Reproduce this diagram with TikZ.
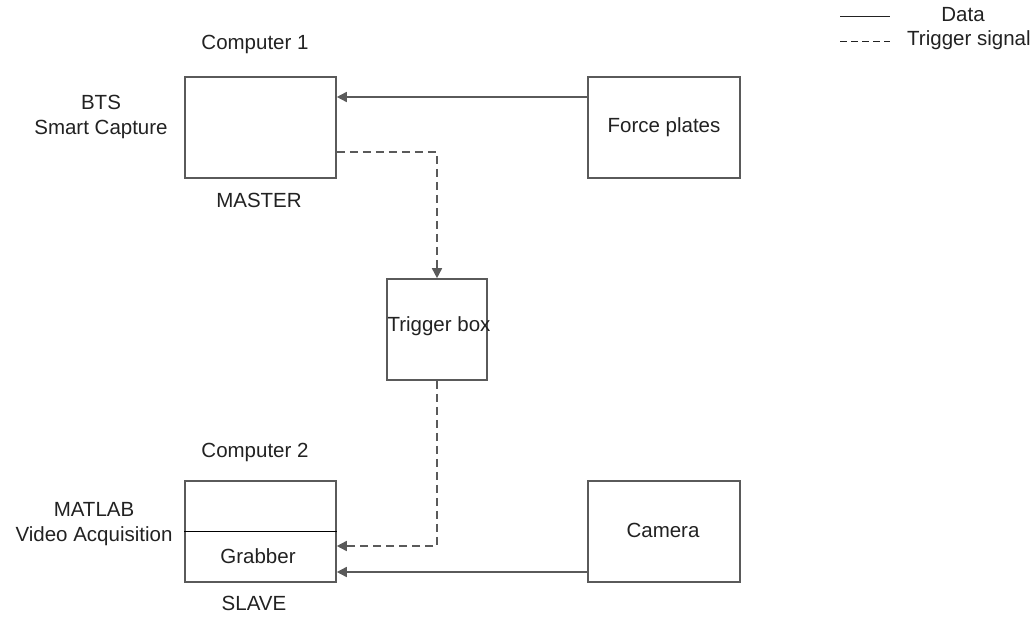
\documentclass[tikz,border=0pt]{standalone}
\usepackage{fontspec}
\setmainfont{Liberation Sans}
\usetikzlibrary{arrows.meta}
\definecolor{edge}{HTML}{5A5A5A}
\definecolor{txt}{HTML}{222222}
\begin{document}
\begin{tikzpicture}[x=1pt,y=-1pt,
  box/.style={draw=edge, line width=1.6pt, fill=white, inner sep=0pt},
  lbl/.style={text=txt, inner sep=0pt, font=\fontsize{20.5}{25}\selectfont, align=center},
  data/.style={draw=edge, line width=1.6pt, -{Triangle[length=10pt,width=10pt]}},
  trig/.style={draw=edge, line width=1.6pt, dash pattern=on 8pt off 5pt, -{Triangle[length=10pt,width=10pt]}},
  legline/.style={draw=txt, line width=1pt}]
\useasboundingbox (0,0) rectangle (1035,617);
% boxes
\node[box, minimum width=151pt, minimum height=101pt] (c1) at (260.5,127.5) {};
\node[box, minimum width=152pt, minimum height=101pt] (fp) at (664,127.5) {};
\node[box, minimum width=100pt, minimum height=101pt] (tb) at (437,329.5) {};
\node[box, minimum width=151pt, minimum height=101pt] (c2) at (260.5,531.5) {};
\node[box, minimum width=152pt, minimum height=101pt] (cam) at (664,531.5) {};
\draw[black, line width=1pt] (c2.west) -- (c2.east);
% box texts
\node[lbl] (fpt) at (fp.center) {Force plates};
\node[lbl] (tbt) at (439,326) {Trigger box};
\node[lbl] (camt) at (663,530) {Camera};
\node[lbl] (grab) at (258,556) {Grabber};
% outside labels
\node[lbl] (c1t) at (255,44) {Computer 1};
\node[lbl] (bts) at (101,117) {BTS\\Smart Capture};
\node[lbl] (mas) at (259,200) {MASTER};
\node[lbl] (c2t) at (255,452) {Computer 2};
\node[lbl] (mat) at (94,524) {MATLAB\\Video Acquisition};
\node[lbl] (sla) at (254,603) {SLAVE};
% connectors
\draw[data] ([yshift=30.5pt]fp.west) -- ([yshift=30.5pt]c1.east);
\draw[trig] ([yshift=-24.5pt]c1.east) -| (tb.north);
\draw[trig] (tb.south) |- ([yshift=-14.5pt]c2.east);
\draw[data] ([yshift=-40.5pt]cam.west) -- ([yshift=-40.5pt]c2.east);
% legend
\coordinate (l1a) at (840,17);
\coordinate (l1b) at (890,17);
\coordinate (l2a) at (840,42);
\coordinate (l2b) at (890,42);
\draw[legline] (l1a) -- (l1b);
\draw[legline, dash pattern=on 7pt off 4pt] (l2a) -- (l2b);
\node[lbl] (ld) at (963,15) {Data};
\node[lbl, anchor=west] (lt) at (907,40) {Trigger signal};
\end{tikzpicture}
\end{document}
